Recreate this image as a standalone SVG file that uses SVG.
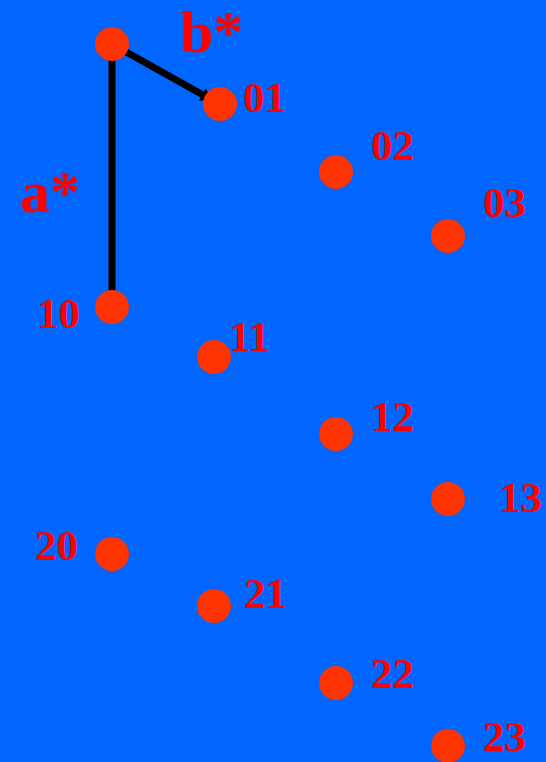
<svg xmlns="http://www.w3.org/2000/svg" width="546" height="762" viewBox="0 0 546 762">
<style>
.dot{fill:#FF3300}
.lbl{fill:#FF0000;font-family:"Liberation Serif","Times New Roman",serif;font-weight:bold;font-size:43px}
.big{fill:#FF0000;font-family:"Liberation Serif","Times New Roman",serif;font-weight:bold;font-size:60px}
.edge{stroke:#000000;stroke-width:7;fill:none}
</style>
<defs>
<marker id="ah" markerWidth="1.6" markerHeight="2" refX="1.6" refY="1" orient="auto" markerUnits="strokeWidth">
<path d="M0,0 L1.6,1 L0,2 z" fill="#000000"/>
</marker>
</defs>
<rect width="546" height="762" fill="#0066FF"/>
<g id="connectors">
<line class="edge" x1="112" y1="44" x2="112" y2="302" marker-end="url(#ah)"/>
<line class="edge" x1="112" y1="44" x2="212" y2="100" marker-end="url(#ah)"/>
</g>
<g id="axis-labels">
<text class="big" x="180" y="52">b*</text>
<text class="big" x="20" y="212">a*</text>
</g>
<g id="origin"><circle class="dot" cx="112" cy="44" r="17"/></g>
<g id="n01"><circle class="dot" cx="220" cy="104" r="17"/><text class="lbl" x="243" y="112">01</text></g>
<g id="n02"><circle class="dot" cx="336" cy="172" r="17"/><text class="lbl" x="371" y="160">02</text></g>
<g id="n03"><circle class="dot" cx="448" cy="236" r="17"/><text class="lbl" x="483" y="217">03</text></g>
<g id="n10"><circle class="dot" cx="112" cy="307" r="17"/><text class="lbl" x="37" y="328">10</text></g>
<g id="n11"><circle class="dot" cx="214" cy="357" r="17"/><text class="lbl" x="229" y="351">11</text></g>
<g id="n12"><circle class="dot" cx="336" cy="434" r="17"/><text class="lbl" x="371" y="431">12</text></g>
<g id="n13"><circle class="dot" cx="448" cy="499" r="17"/><text class="lbl" x="499" y="512">13</text></g>
<g id="n20"><circle class="dot" cx="112" cy="554" r="17"/><text class="lbl" x="35" y="560">20</text></g>
<g id="n21"><circle class="dot" cx="214" cy="606" r="17"/><text class="lbl" x="244" y="608">21</text></g>
<g id="n22"><circle class="dot" cx="336" cy="683" r="17"/><text class="lbl" x="371" y="688">22</text></g>
<g id="n23"><circle class="dot" cx="448" cy="746" r="17"/><text class="lbl" x="483" y="751">23</text></g>
</svg>
